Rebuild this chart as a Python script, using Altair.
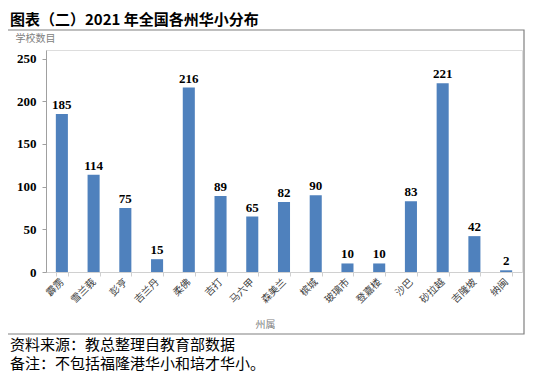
import altair as alt
import pandas as pd

states = ["霹雳", "雪兰莪", "彭亨", "吉兰丹", "柔佛", "吉打", "马六甲", "森美兰",
          "槟城", "玻璃市", "登嘉楼", "沙巴", "砂拉越", "吉隆坡", "纳闽"]
schools = [185, 114, 75, 15, 216, 89, 65, 82, 90, 10, 10, 83, 221, 42, 2]

title_text = "图表（二）2021 年全国各州华小分布"
note1 = "资料来源：教总整理自教育部数据"
note2 = "备注：不包括福隆港华小和培才华小。"
y_title = "学校数目"
x_title = "州属"

df = pd.DataFrame({"state": states, "n": schools})
one = pd.DataFrame({"k": [0]})

CJK = "Noto Sans CJK SC"
SERIF = "Liberation Serif"

x = alt.X("state:N", sort=states,
          scale=alt.Scale(paddingInner=0.62, paddingOuter=0.31),
          axis=alt.Axis(title=x_title, labelAngle=-45, labelAlign="right", labelBaseline="middle",
                        labelFont=CJK, labelFontSize=10, labelColor="#404040", labelPadding=4,
                        domainColor="#d0d0d0", tickColor="#d0d0d0", tickBand="extent", tickSize=4,
                        titleFont=CJK, titleFontSize=10, titleFontWeight="normal", titleColor="#808080",
                        titleX=219, titleY=52, titleAlign="center", titleBaseline="middle"))
y = alt.Y("n:Q", scale=alt.Scale(domain=[0, 250]),
          axis=alt.Axis(title=y_title, values=[0, 50, 100, 150, 200, 250], grid=False,
                        labelFont=SERIF, labelFontWeight="bold", labelFontSize=13, labelColor="#000000",
                        labelPadding=6, domainColor="#a0a0a0", tickColor="#a0a0a0", tickSize=4,
                        titleAngle=0, titleX=-31, titleY=-12, titleAlign="left", titleBaseline="middle",
                        titleFont=CJK, titleFontSize=10, titleFontWeight="normal", titleColor="#808080"))

bars = alt.Chart(df).mark_bar(color="#4f81bd").encode(x=x, y=y)
labels = alt.Chart(df).mark_text(dy=-9, font=SERIF, fontWeight="bold", fontSize=13, color="#000000").encode(
    x=alt.X("state:N", sort=states), y="n:Q", text="n:Q")

box = alt.Chart(one).mark_rect(fill=None, stroke="#808080", strokeWidth=1.2).encode(
    x=alt.value(-39), x2=alt.value(478), y=alt.value(-20), y2=alt.value(284))
title = alt.Chart(one).mark_text(align="left", baseline="middle", font=CJK, fontWeight="bold",
                                 fontSize=15, color="#000000").encode(
    x=alt.value(-36), y=alt.value(-30), text=alt.value(title_text))
n1 = alt.Chart(one).mark_text(align="left", baseline="middle", font=CJK, fontSize=15, color="#000000").encode(
    x=alt.value(-36), y=alt.value(295), text=alt.value(note1))
n2 = alt.Chart(one).mark_text(align="left", baseline="middle", font=CJK, fontSize=15, color="#000000").encode(
    x=alt.value(-36), y=alt.value(314), text=alt.value(note2))

chart = alt.layer(box, bars, labels, title, n1, n2).properties(
    width=476, height=222, autosize="none",
    padding={"left": 38, "top": 42, "right": 10, "bottom": 103}
).configure_view(stroke=None).configure(background="white")

chart.save("out.html", embed_options={"renderer": "svg", "actions": False})
